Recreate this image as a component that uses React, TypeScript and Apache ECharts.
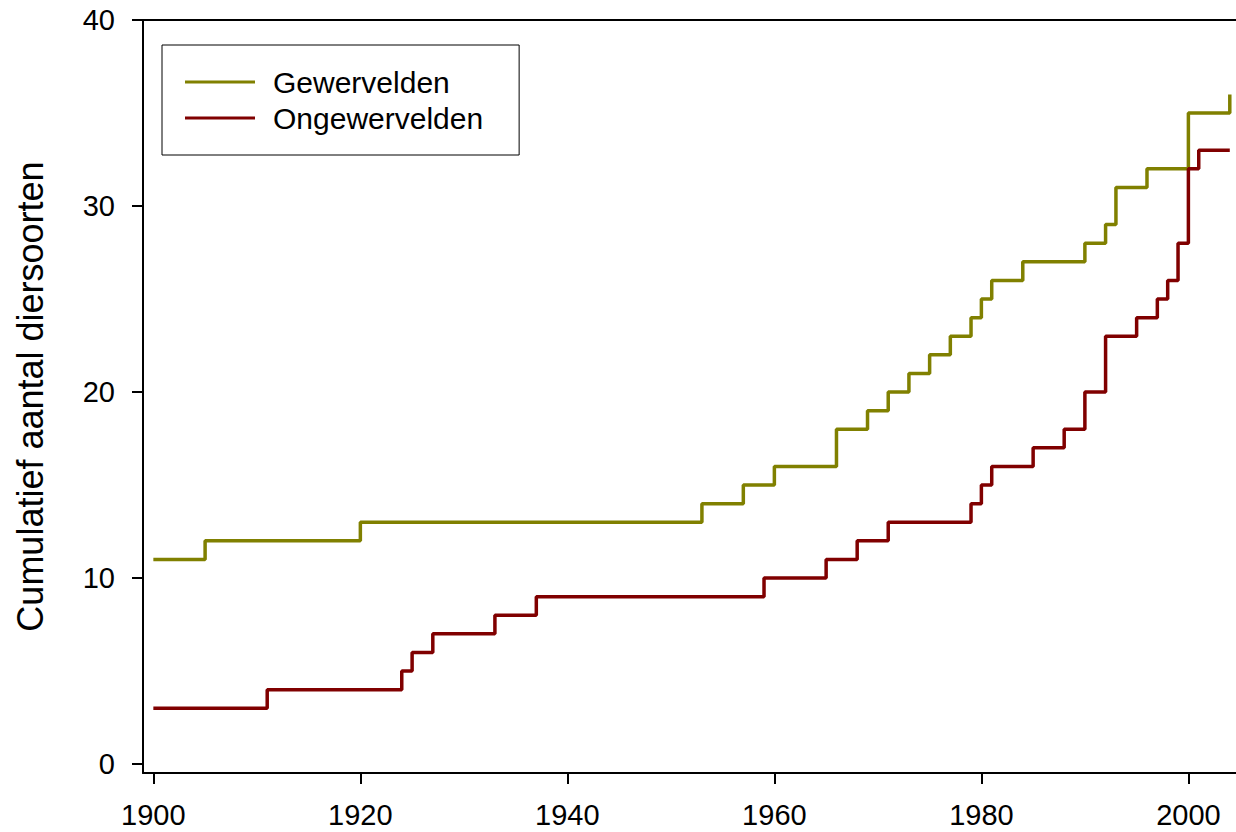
import React, { useEffect, useRef } from "react";
import * as echarts from "echarts";

const vertYears = [1900, 1905, 1920, 1953, 1957, 1960, 1966, 1969, 1971, 1973, 1975, 1977, 1979, 1980, 1981, 1984, 1990, 1992, 1993, 1996, 2000, 2004];
const vertValues = [11, 12, 13, 14, 15, 16, 18, 19, 20, 21, 22, 23, 24, 25, 26, 27, 28, 29, 31, 32, 35, 36];

const invYears = [1900, 1911, 1924, 1925, 1927, 1933, 1937, 1959, 1965, 1968, 1971, 1979, 1980, 1981, 1985, 1988, 1990, 1992, 1995, 1997, 1998, 1999, 2000, 2001, 2004];
const invValues = [3, 4, 5, 6, 7, 8, 9, 10, 11, 12, 13, 14, 15, 16, 17, 18, 20, 23, 24, 25, 26, 28, 32, 33, 33];

const xTicks = [1900, 1920, 1940, 1960, 1980, 2000];
const yTicks = [0, 10, 20, 30, 40];

const seriesNames = ["Gewervelden", "Ongewervelden"];
const FONT = "'Liberation Sans', Arial, sans-serif";

export default function App() {
  const ref = useRef<HTMLDivElement>(null);
  useEffect(() => {
    document.body.style.margin = "0";
    const chart = echarts.init(ref.current!, null, { renderer: "svg" });
    const axisLine = { show: true, lineStyle: { color: "#000", width: 2 } };
    chart.setOption({
      animation: false,
      textStyle: { fontFamily: FONT },
      grid: { left: 143, top: 20, right: 0, bottom: 59, containLabel: false, outerBoundsMode: "none" },
      legend: {
        orient: "vertical",
        left: 162,
        top: 45,
        padding: [22, 36, 22, 23],
        itemGap: 6,
        borderColor: "#000",
        borderWidth: 1,
        icon: "rect",
        itemWidth: 70,
        itemHeight: 3,
        data: seriesNames,
        textStyle: { fontSize: 30, lineHeight: 30, color: "#000", fontFamily: FONT, padding: [0, 0, 0, 13] },
      },
      xAxis: [
        {
          type: "value",
          min: 1899,
          max: 2004.6,
          axisLine: { ...axisLine, onZero: false },
          splitLine: { show: false },
          axisTick: { show: true, length: 11, customValues: xTicks, lineStyle: { color: "#000", width: 2 } },
          axisLabel: { customValues: xTicks, formatter: (v: number) => String(v), fontSize: 29, color: "#000", margin: 27, fontFamily: FONT },
        },
        {
          type: "value",
          position: "top",
          min: 1899,
          max: 2004.6,
          axisLine: { ...axisLine, onZero: false },
          splitLine: { show: false },
          axisTick: { show: false },
          axisLabel: { show: false },
        },
      ],
      yAxis: {
        type: "value",
        min: -0.48,
        max: 40,
        name: "Cumulatief aantal diersoorten",
        nameLocation: "middle",
        nameRotate: 90,
        nameGap: 95,
        nameTextStyle: { fontSize: 36, color: "#000", fontFamily: FONT },
        axisLine: { ...axisLine, onZero: false },
        splitLine: { show: false },
        axisTick: { show: true, length: 11, customValues: yTicks, lineStyle: { color: "#000", width: 2 } },
        axisLabel: { customValues: yTicks, fontSize: 29, color: "#000", margin: 28, fontFamily: FONT },
      },
      series: [
        {
          name: seriesNames[0],
          type: "line",
          step: "end",
          symbol: "none",
          color: "#808000",
          lineStyle: { width: 3.5, color: "#808000" },
          data: vertYears.map((y, i) => [y, vertValues[i]]),
        },
        {
          name: seriesNames[1],
          type: "line",
          step: "end",
          symbol: "none",
          color: "#800000",
          lineStyle: { width: 3.5, color: "#800000" },
          data: invYears.map((y, i) => [y, invValues[i]]),
        },
      ],
    });
    return () => chart.dispose();
  }, []);
  return <div ref={ref} style={{ width: 1236, height: 832 }} />;
}
